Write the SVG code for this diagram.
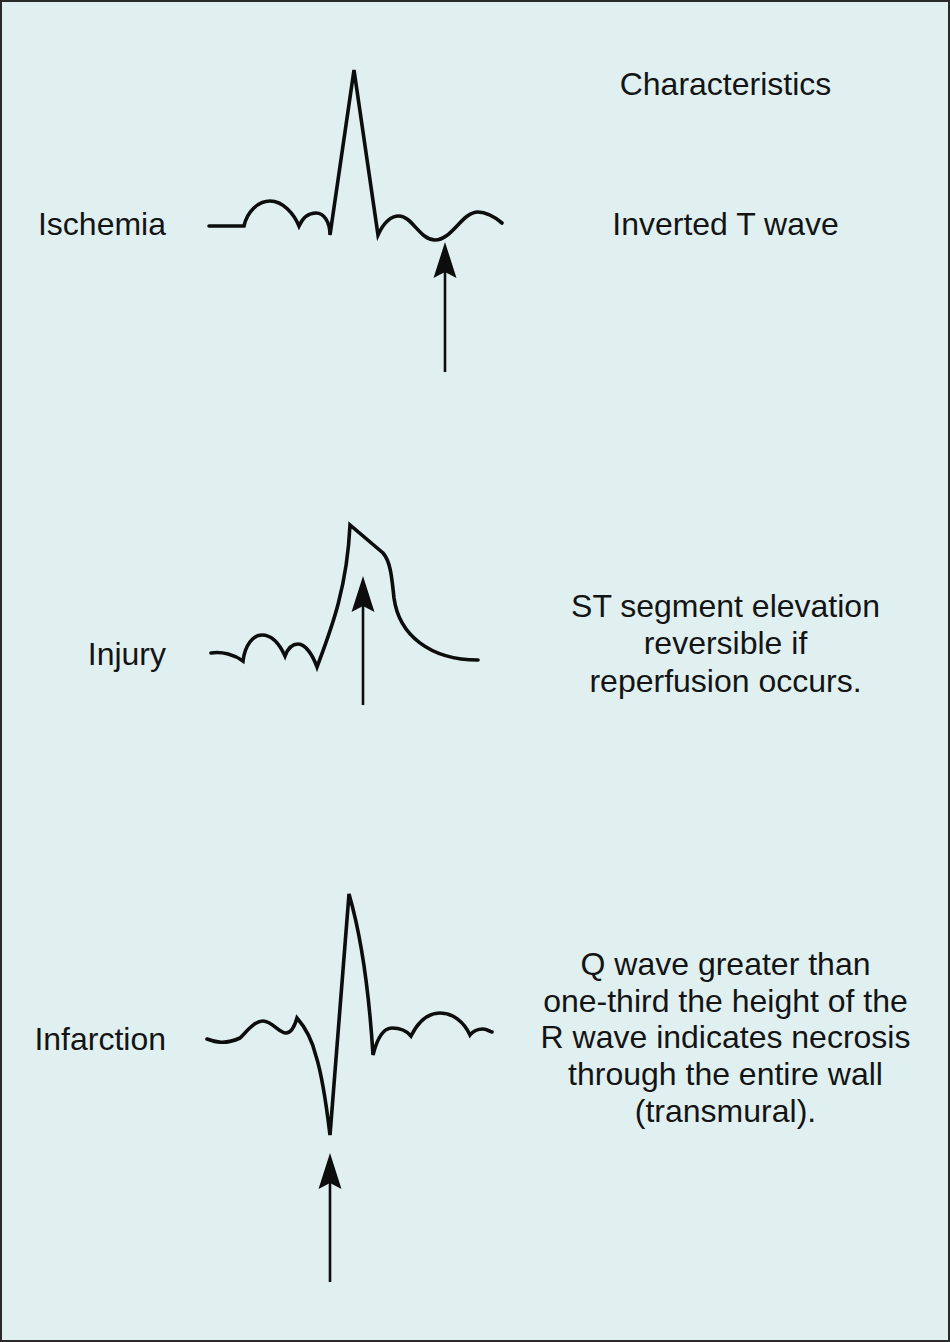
<svg xmlns="http://www.w3.org/2000/svg" xmlns:xlink="http://www.w3.org/1999/xlink" width="950" height="1342" viewBox="0 0 950 1342">
  <defs>
    <style>
      .bg { fill: #e0f0f1; stroke: #2a2a2a; stroke-width: 2; }
      .txt { font-family: "Liberation Sans", Arial, Helvetica, sans-serif; font-size: 32px; fill: #141414; }
      .lbl { text-anchor: end; }
      .desc { text-anchor: middle; }
      .wave { fill: none; stroke: #0d0d0d; stroke-width: 3.6; stroke-linejoin: miter; stroke-linecap: round; }
      .shaft { fill: none; stroke: #0d0d0d; stroke-width: 2.6; }
      .head { fill: #0d0d0d; stroke: none; }
    </style>
    <path id="ah" d="M0,0 L11.5,36 L0,30 L-11.5,36 Z"/>
  </defs>

  <rect class="bg" x="1" y="1" width="948" height="1340"/>

  <text class="txt desc" x="725.5" y="95">Characteristics</text>

  <g id="ischemia">
    <text class="txt lbl" x="166" y="235">Ischemia</text>
    <path class="wave" d="M209,226 L244,226 C247,212 258,201 270,201 C283,201 294,214 299,226 C303,217 309,213 316,213 C324,213 330,222 330,235 L354,70 L378,235 C384,222 391,216 399,216 C412,216 420,240 435,240 C452,240 462,212 478,212 C488,212 496,218 502,223"/>
    <text class="txt desc" x="725.5" y="235">Inverted T wave</text>
  </g>

  <g id="injury">
    <text class="txt lbl" x="166" y="665">Injury</text>
    <path class="wave" d="M211,653 C222,651 235,655 243,661 C245,645 253,635 262,635 C272,635 280,645 285,656 C288,648 293,644 298,644 C306,644 313,656 317,667 C330,632 347,590 350,525 L383,553 C391,562 392,580 394,598 C399,635 430,660 478,660"/>
    <text class="txt desc" x="725.5" y="617">ST segment elevation</text>
    <text class="txt desc" x="725.5" y="654">reversible if</text>
    <text class="txt desc" x="725.5" y="692">reperfusion occurs.</text>
  </g>

  <g id="infarction">
    <text class="txt lbl" x="166" y="1050">Infarction</text>
    <path class="wave" d="M207,1039 C215,1042 225,1045 240,1038 C248,1030 255,1021 263,1021 C272,1021 279,1033 286,1033 C292,1033 295,1025 297,1018 C305,1027 312,1040 316,1056 C322,1075 327,1110 330,1135 L349,894 C358,925 368,975 373,1055 C378,1035 385,1028 392,1028 C400,1028 406,1030 411,1036 C418,1022 428,1013 440,1013 C453,1013 464,1022 470,1035 C474,1030 478,1029 483,1029 C487,1029 489,1031 492,1032"/>
    <text class="txt desc" x="725.5" y="975">Q wave greater than</text>
    <text class="txt desc" x="725.5" y="1012">one-third the height of the</text>
    <text class="txt desc" x="725.5" y="1048">R wave indicates necrosis</text>
    <text class="txt desc" x="725.5" y="1085">through the entire wall</text>
    <text class="txt desc" x="725.5" y="1122">(transmural).</text>
  </g>

  <g id="connectors">
    <line class="shaft" x1="445" y1="268" x2="445" y2="372"/>
    <use class="head" xlink:href="#ah" href="#ah" x="445" y="242"/>
    <line class="shaft" x1="363" y1="604" x2="363" y2="705"/>
    <use class="head" xlink:href="#ah" href="#ah" x="363" y="576"/>
    <line class="shaft" x1="330" y1="1180" x2="330" y2="1282"/>
    <use class="head" xlink:href="#ah" href="#ah" x="330" y="1153"/>
  </g>
</svg>
